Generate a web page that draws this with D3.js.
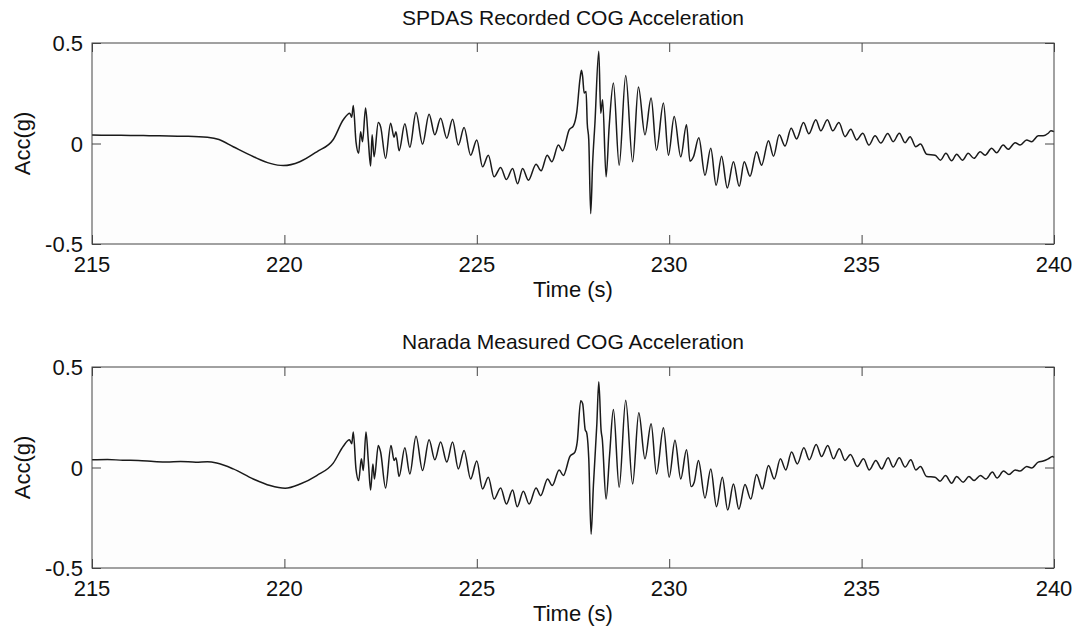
<!DOCTYPE html>
<html>
<head>
<meta charset="utf-8">
<script src="https://cdn.jsdelivr.net/npm/d3@7"></script>
<style>
  body { margin: 0; background: #fff; }
  text { font-family: "Liberation Sans", Arial, sans-serif; fill: #111; }
</style>
</head>
<body>
<div id="chart"></div>
<script>
// Two stacked acceleration records, same time window

var xTicks = [215, 220, 225, 230, 235, 240];
var yTicks = [-0.5, 0, 0.5];
var titles = ["SPDAS Recorded COG Acceleration", "Narada Measured COG Acceleration"];

// [time (s), acc (g)]
var spdasSeries = [
    [215.00, 0.042], [215.50, 0.041], [216.00, 0.040], [216.50, 0.039], [217.00, 0.037], [217.50, 0.036],
    [218.00, 0.031], [218.30, 0.020], [218.67, -0.016], [219.20, -0.066], [219.63, -0.099], [219.97, -0.110],
    [220.40, -0.091], [220.85, -0.040], [221.27, 0.020], [221.53, 0.118], [221.70, 0.151], [221.75, 0.131],
    [221.79, 0.189], [221.86, 0.009], [221.93, -0.049], [221.98, 0.059], [222.03, 0.009], [222.11, 0.176],
    [222.18, 0.018], [222.24, -0.112], [222.28, 0.043], [222.33, -0.066], [222.44, 0.104], [222.50, 0.084],
    [222.63, -0.074], [222.76, 0.101], [222.85, 0.031], [222.90, 0.059], [222.98, -0.036], [223.13, 0.098],
    [223.26, -0.019], [223.42, 0.154], [223.59, -0.003], [223.76, 0.146], [223.91, 0.043], [224.06, 0.126],
    [224.22, 0.026], [224.37, 0.121], [224.52, -0.008], [224.67, 0.079], [224.84, -0.058], [225.00, 0.018],
    [225.15, -0.116], [225.30, -0.058], [225.45, -0.166], [225.62, -0.119], [225.77, -0.179], [225.93, -0.124],
    [226.06, -0.200], [226.19, -0.124], [226.34, -0.183], [226.54, -0.103], [226.67, -0.136], [226.83, -0.058],
    [226.95, -0.091], [227.12, -0.008], [227.23, -0.036], [227.40, 0.068], [227.51, 0.088], [227.60, 0.159],
    [227.68, 0.318], [227.72, 0.364], [227.75, 0.334], [227.79, 0.251], [227.84, 0.259], [227.87, 0.101],
    [227.91, 0.018], [227.96, -0.349], [228.01, -0.099], [228.07, 0.101], [228.17, 0.459], [228.22, 0.151],
    [228.27, 0.218], [228.36, -0.166], [228.44, 0.084], [228.55, 0.301], [228.70, -0.108], [228.87, 0.338],
    [229.05, -0.091], [229.20, 0.281], [229.37, 0.043], [229.53, 0.226], [229.67, -0.033], [229.85, 0.201],
    [229.98, -0.058], [230.13, 0.134], [230.30, -0.066], [230.45, 0.093], [230.54, -0.088], [230.63, -0.066],
    [230.77, 0.028], [230.93, -0.158], [231.08, -0.024], [231.22, -0.208], [231.36, -0.063], [231.51, -0.221],
    [231.67, -0.091], [231.82, -0.213], [231.95, -0.091], [232.10, -0.163], [232.27, -0.041], [232.40, -0.108],
    [232.58, 0.014], [232.71, -0.063], [232.86, 0.043], [233.01, -0.013], [233.17, 0.076], [233.31, 0.023],
    [233.49, 0.104], [233.63, 0.048], [233.81, 0.118], [233.94, 0.063], [234.11, 0.118], [234.25, 0.063],
    [234.41, 0.104], [234.57, 0.034], [234.72, 0.071], [234.87, 0.018], [235.03, 0.051], [235.19, -0.008],
    [235.35, 0.038], [235.50, 0.002], [235.68, 0.050], [235.82, 0.009], [235.98, 0.051], [236.13, 0.004],
    [236.26, 0.034], [236.41, -0.016], [236.53, -0.003], [236.69, -0.053], [236.91, -0.058], [237.05, -0.083],
    [237.19, -0.049], [237.34, -0.086], [237.47, -0.053], [237.62, -0.083], [237.77, -0.049], [237.92, -0.074],
    [238.08, -0.041], [238.21, -0.058], [238.38, -0.024], [238.51, -0.046], [238.68, -0.008], [238.81, -0.029],
    [238.99, 0.004], [239.12, -0.008], [239.29, 0.018], [239.42, 0.009], [239.59, 0.038], [239.72, 0.038],
    [239.85, 0.051], [239.92, 0.064], [240.00, 0.059]
];

var naradaSeries = [
    [215.00, 0.038], [215.40, 0.040], [215.80, 0.036], [216.20, 0.035], [216.60, 0.030], [216.94, 0.027],
    [217.30, 0.030], [217.70, 0.026], [218.00, 0.028], [218.24, 0.022], [218.67, -0.007], [219.19, -0.057],
    [219.63, -0.090], [220.02, -0.103], [220.41, -0.082], [220.84, -0.040], [221.27, 0.022], [221.53, 0.106],
    [221.69, 0.138], [221.75, 0.118], [221.79, 0.177], [221.86, -0.007], [221.93, -0.065], [222.00, 0.043],
    [222.05, -0.015], [222.12, 0.177], [222.18, 0.035], [222.24, -0.112], [222.30, 0.018], [222.34, -0.057],
    [222.44, 0.110], [222.50, 0.077], [222.63, -0.102], [222.77, 0.110], [222.85, 0.035], [222.90, 0.048],
    [222.98, -0.045], [223.13, 0.098], [223.26, -0.032], [223.42, 0.155], [223.59, -0.015], [223.76, 0.138],
    [223.91, 0.038], [224.06, 0.127], [224.22, 0.027], [224.37, 0.127], [224.52, -0.007], [224.67, 0.085],
    [224.84, -0.057], [225.00, 0.032], [225.15, -0.107], [225.30, -0.048], [225.45, -0.157], [225.62, -0.102],
    [225.77, -0.182], [225.93, -0.112], [226.05, -0.195], [226.21, -0.118], [226.36, -0.182], [226.54, -0.102],
    [226.66, -0.140], [226.84, -0.057], [226.96, -0.090], [227.14, -0.012], [227.25, -0.040], [227.42, 0.055],
    [227.55, 0.077], [227.61, 0.127], [227.70, 0.332], [227.75, 0.318], [227.82, 0.185], [227.85, 0.177],
    [227.91, 0.043], [227.97, -0.332], [228.03, -0.090], [228.12, 0.218], [228.17, 0.427], [228.23, 0.185],
    [228.26, 0.143], [228.36, -0.157], [228.45, 0.060], [228.55, 0.288], [228.70, -0.098], [228.87, 0.335],
    [229.05, -0.082], [229.21, 0.272], [229.37, 0.043], [229.53, 0.218], [229.67, -0.032], [229.85, 0.198],
    [230.00, -0.048], [230.15, 0.135], [230.30, -0.057], [230.45, 0.088], [230.57, -0.095], [230.65, -0.073],
    [230.76, 0.035], [230.93, -0.152], [231.08, -0.007], [231.23, -0.195], [231.38, -0.048], [231.52, -0.212],
    [231.67, -0.082], [231.81, -0.207], [231.97, -0.085], [232.12, -0.157], [232.27, -0.035], [232.42, -0.107],
    [232.58, 0.010], [232.73, -0.057], [232.89, 0.043], [233.03, -0.012], [233.18, 0.077], [233.33, 0.018],
    [233.50, 0.098], [233.64, 0.038], [233.82, 0.115], [233.96, 0.055], [234.12, 0.110], [234.27, 0.043],
    [234.42, 0.093], [234.57, 0.035], [234.71, 0.065], [234.89, 0.005], [235.05, 0.043], [235.20, -0.012],
    [235.37, 0.035], [235.52, -0.007], [235.69, 0.048], [235.82, 0.002], [235.98, 0.048], [236.13, 0.002],
    [236.28, 0.038], [236.41, -0.012], [236.53, 0.005], [236.69, -0.045], [236.91, -0.048], [237.04, -0.068],
    [237.18, -0.040], [237.34, -0.078], [237.47, -0.045], [237.64, -0.073], [237.79, -0.045], [237.92, -0.065],
    [238.09, -0.040], [238.23, -0.057], [238.40, -0.023], [238.52, -0.052], [238.69, -0.018], [238.83, -0.035],
    [238.99, -0.012], [239.12, -0.018], [239.29, 0.005], [239.42, -0.002], [239.59, 0.027], [239.72, 0.032],
    [239.85, 0.043], [239.96, 0.055], [240.00, 0.050]
];

var W = 1083, H = 636;
var left = 92, right = 1054;
var panelTops = [43, 367];
var panelH = 201;
var tickLen = 9;

var svg = d3.select("#chart")
    .append("svg")
    .attr("width", W)
    .attr("height", H);

var x = d3.scaleLinear()
    .domain([xTicks[0], xTicks[xTicks.length - 1]])
    .range([left, right]);

function drawPanel(series, top, title) {
    var y = d3.scaleLinear()
        .domain([-0.5, 0.5])
        .range([top + panelH, top]);

    var g = svg.append("g");

    // plot area
    g.append("rect")
        .attr("x", left)
        .attr("y", top)
        .attr("width", right - left)
        .attr("height", panelH)
        .style("fill", "#fdfdfd");

    // the trace
    g.append("path")
        .datum(series)
        .style("fill", "none")
        .style("stroke", "#1a1a1a")
        .style("stroke-width", 1.5)
        .style("stroke-linejoin", "round")
        .attr("d", d3.line()
            .x(d => x(d[0]))
            .y(d => y(d[1]))
            .curve(d3.curveMonotoneX));

    // inward ticks, matlab style, on all four sides
    g.append("g")
        .attr("transform", "translate(0," + (top + panelH) + ")")
        .call(d3.axisBottom(x).tickValues(xTicks).tickSizeInner(-tickLen).tickSizeOuter(0).tickFormat(""));
    g.append("g")
        .attr("transform", "translate(0," + top + ")")
        .call(d3.axisTop(x).tickValues(xTicks).tickSizeInner(-tickLen).tickSizeOuter(0).tickFormat(""));
    g.append("g")
        .attr("transform", "translate(" + left + ",0)")
        .call(d3.axisLeft(y).tickValues(yTicks).tickSizeInner(-tickLen).tickSizeOuter(0).tickFormat(""));
    g.append("g")
        .attr("transform", "translate(" + right + ",0)")
        .call(d3.axisRight(y).tickValues(yTicks).tickSizeInner(-tickLen).tickSizeOuter(0).tickFormat(""));
    g.selectAll(".domain").remove();
    g.selectAll(".tick line").style("stroke", "#444");

    // box
    g.append("rect")
        .attr("x", left)
        .attr("y", top)
        .attr("width", right - left)
        .attr("height", panelH)
        .style("fill", "none")
        .style("stroke", "#444")
        .style("stroke-width", 1);

    // tick labels
    g.selectAll(".xlab")
        .data(xTicks)
        .join("text")
        .attr("x", d => x(d))
        .attr("y", top + panelH + 28)
        .attr("text-anchor", "middle")
        .style("font-size", "22px")
        .text(d => d);

    g.selectAll(".ylab")
        .data(yTicks)
        .join("text")
        .attr("x", left - 9)
        .attr("y", d => y(d) + 8)
        .attr("text-anchor", "end")
        .style("font-size", "22px")
        .text(d => d);

    g.append("text")
        .attr("x", (left + right) / 2)
        .attr("y", top - 18)
        .attr("text-anchor", "middle")
        .style("font-size", "21px")
        .text(title);

    g.append("text")
        .attr("x", (left + right) / 2)
        .attr("y", top + panelH + 53)
        .attr("text-anchor", "middle")
        .style("font-size", "22px")
        .text("Time (s)");

    g.append("text")
        .attr("transform", "translate(30," + y(0) + ") rotate(-90)")
        .attr("text-anchor", "middle")
        .style("font-size", "22px")
        .text("Acc(g)");
}

drawPanel(spdasSeries, panelTops[0], titles[0]);
drawPanel(naradaSeries, panelTops[1], titles[1]);
</script>
</body>
</html>
